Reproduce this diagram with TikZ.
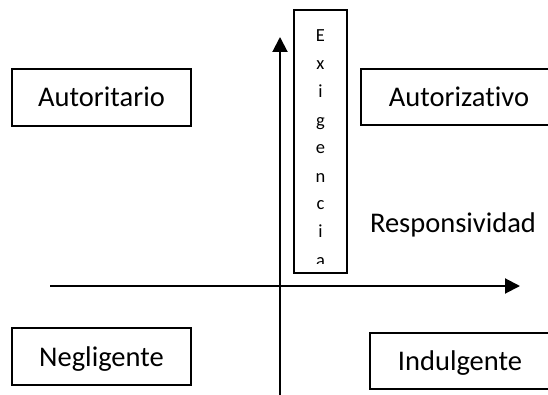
\documentclass[tikz,border=0pt]{standalone}
\usepackage{fontspec}
\setmainfont{Carlito}[Ligatures={NoCommon}]
\usetikzlibrary{arrows.meta}
\tikzset{
  quadbox/.style={draw=black, line width=1.2pt, minimum width=179pt, minimum height=57pt,
    inner sep=0pt, text height=19pt, text depth=0pt, font=\fontsize{28.5}{34}\selectfont},
  axisline/.style={line width=2pt, -{Triangle[length=15pt,width=15pt]}},
  letterbox/.style={draw=black, line width=1.2pt, minimum width=53pt, minimum height=263pt, inner sep=0pt},
  letterstyle/.style={anchor=base, inner sep=0pt, font=\fontsize{18.5}{22}\selectfont},
  plainlabel/.style={anchor=base, inner sep=0pt, font=\fontsize{28.5}{34}\selectfont}
}
\begin{document}
\begin{tikzpicture}[x=1pt,y=-1pt]
\useasboundingbox (0,0) rectangle (548,395);
\clip (0,0) rectangle (548,395);
% quadrant boxes
\node[quadbox] (autoritario) at (101.5,97.5) {Autoritario};
\node[quadbox, minimum width=196pt, minimum height=56pt] (autorizativo) at (459,97) {Autorizativo};
\node[quadbox] (negligente) at (101.5,356.5) {Negligente};
\node[quadbox, minimum width=180pt, minimum height=56pt] (indulgente) at (460,361) {Indulgente};
% axes
\coordinate (ybot) at (280,400);
\coordinate (ytop) at (280,37);
\coordinate (xleft) at (50,286);
\coordinate (xright) at (520,286);
\draw[axisline] (ybot) -- (ytop);
\draw[axisline] (xleft) -- (xright);
% Exigencia box
\node[letterbox] (exig) at (320.5,141.5) {};
\begin{scope}
\clip (294,10) rectangle (347,263);
\foreach \ch/\yy [count=\k] in {E/42,x/70,i/98,g/127,e/154,n/183,c/210,i/237,a/266}{
  \node[letterstyle] (ex\k) at (320.5,\yy) {\ch};
}
\end{scope}
% axis label
\node[plainlabel] (resp) at (453,233) {Responsividad};
\end{tikzpicture}
\end{document}
